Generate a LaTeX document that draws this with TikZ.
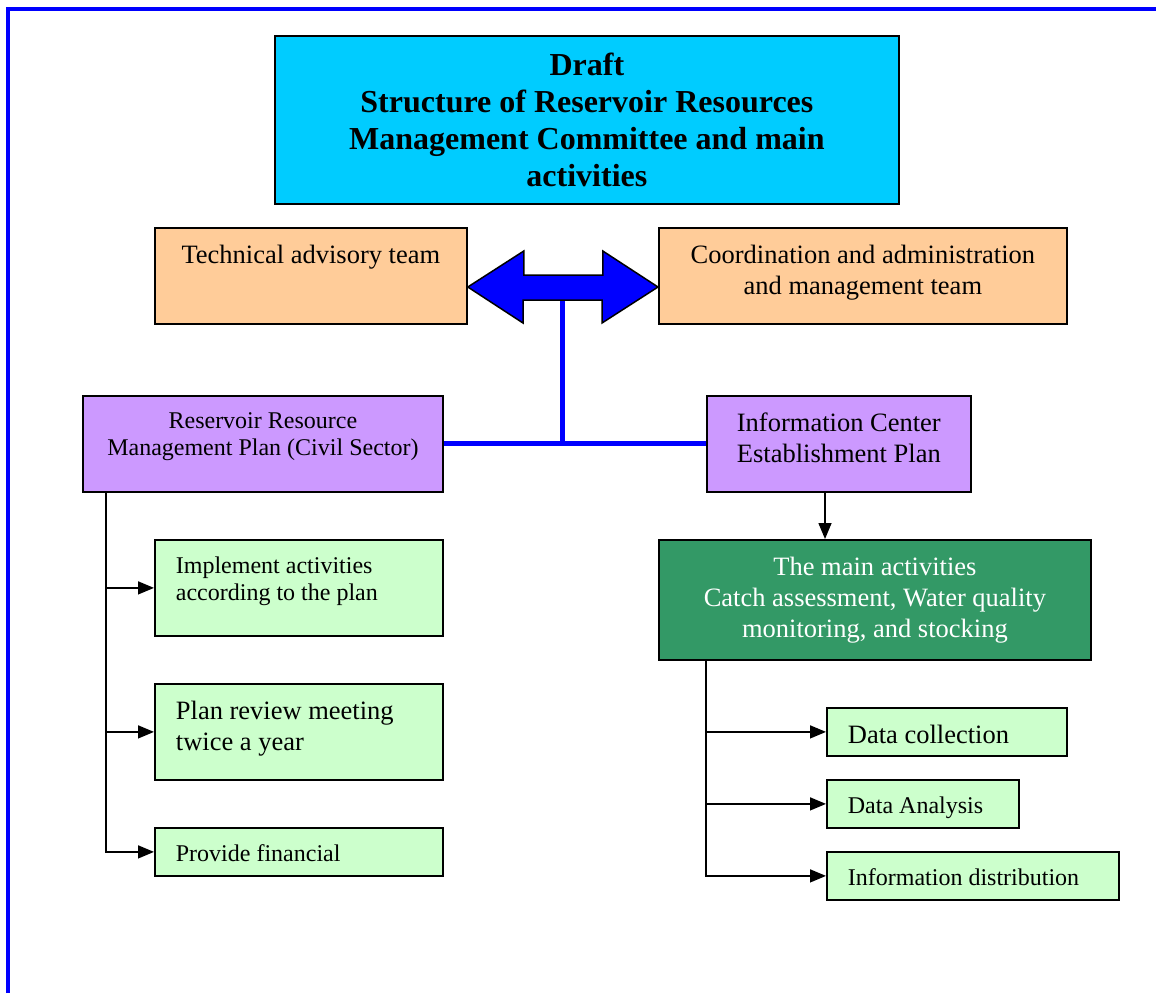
\documentclass[tikz,border=0pt]{standalone}
\usepackage{fontspec}
\setmainfont{Liberation Serif}
\usetikzlibrary{calc,positioning,arrows.meta}
\definecolor{titlecyan}{HTML}{00CCFF}
\definecolor{peach}{HTML}{FFCC99}
\definecolor{lilac}{HTML}{CC99FF}
\definecolor{darkgreen}{HTML}{339966}
\definecolor{mint}{HTML}{CCFFCC}
\tikzstyle{every node}+=[inner sep=0pt]
\tikzstyle{every path}+=[line width=1.5pt]
\tikzstyle{box}=[draw,line width=1.8pt,anchor=north west]
\tikzstyle{link}=[-{Triangle[length=16pt,width=13pt]}]
\tikzstyle{blueline}=[draw=blue,line width=5pt]

\begin{document}
\begin{tikzpicture}[x=1pt,y=-1pt]
    \newcommand{\bigtext}{\fontsize{26.5}{31}\selectfont}
    \newcommand{\smalltext}{\fontsize{24}{27}\selectfont}
    % box of width #1 and height #2, text #3 centred at its top
    \newcommand{\topc}[3]{\parbox[c][#2][t]{#1}{\centering\vspace*{17pt}#3\par}}
    % box of width #1 and height #2, text #4 flush left after indent #3
    \newcommand{\topl}[4]{\parbox[c][#2][t]{#1}{\raggedright\leftskip=#3\relax\vspace*{17pt}#4\par}}

    \useasboundingbox (0,0) rectangle (1156,993);
    % page frame
    \draw[blue,line width=4pt] (8,993) -- (8,9) -- (1156,9);

    % title
    \node[box,fill=titlecyan,minimum width=624pt,minimum height=168pt,align=center,
          font=\fontsize{32}{37}\selectfont\bfseries] (title) at (274,35)
        {Draft\\Structure of Reservoir Resources\\Management Committee and main\\activities};

    % teams
    \node[box,fill=peach] (tech) at (154,227) {\topc{312pt}{96pt}{\bigtext Technical advisory team}};
    \node[box,fill=peach] (coord) at (658,227) {\topc{408pt}{96pt}{\bigtext Coordination and administration\\and management team}};

    % plans
    \node[box,fill=lilac] (rrmp) at (82,395) {\topc{360pt}{96pt}{\smalltext Reservoir Resource\\Management Plan (Civil Sector)}};
    \node[box,fill=lilac] (info) at (706,395) {\topl{264pt}{96pt}{30pt}{\bigtext Information Center\\Establishment Plan}};

    % left activities
    \node[box,fill=mint] (impl) at (154,539) {\topl{288pt}{96pt}{21pt}{\smalltext Implement activities\\according to the plan}};
    \node[box,fill=mint] (review) at (154,683) {\topl{288pt}{96pt}{21pt}{\bigtext Plan review meeting\\twice a year}};
    \node[box,fill=mint] (fin) at (154,827) {\topl{288pt}{48pt}{21pt}{\smalltext Provide financial}};

    % right activities
    \node[box,fill=darkgreen,text=white] (main) at (658,539) {\topc{432pt}{120pt}{\bigtext The main activities\\Catch assessment, Water quality\\monitoring, and stocking}};
    \node[box,fill=mint] (collect) at (826,707) {\topl{240pt}{48pt}{21pt}{\bigtext Data collection}};
    \node[box,fill=mint] (analysis) at (826,779) {\topl{192pt}{48pt}{21pt}{\smalltext Data Analysis}};
    \node[box,fill=mint] (distrib) at (826,851) {\topl{292pt}{48pt}{21pt}{\smalltext Information distribution}};

    % blue links
    \coordinate (shaft) at (562.5,300);
    \draw[blueline] (rrmp.east) -- (rrmp.east -| info.west);
    \draw[blueline] (shaft) -- (shaft |- rrmp.east);
    \draw[fill=blue] (tech.east |- 0,287) -- ++(56,-36) -- ++(0,24) -- ++(79,0) -- ++(0,-24)
        -- (coord.west |- 0,287) -- ++(-56,36) -- ++(0,-23) -- ++(-79,0) -- ++(0,23) -- cycle;

    % left branch
    \coordinate (ltop) at ($(rrmp.south west)+(24,0)$);
    \draw[link] (ltop) |- (fin.west);
    \draw[link] (ltop |- impl.west) -- (impl.west);
    \draw[link] (ltop |- review.west) -- (review.west);

    % right branch
    \coordinate (idown) at ($(info.south west)+(119,0)$);
    \draw[link] (idown) -- (idown |- main.north);
    \coordinate (rtop) at ($(main.south west)+(48,0)$);
    \draw[link] (rtop) |- (distrib.west);
    \draw[link] (rtop |- collect.west) -- (collect.west);
    \draw[link] (rtop |- analysis.west) -- (analysis.west);
\end{tikzpicture}
\end{document}
